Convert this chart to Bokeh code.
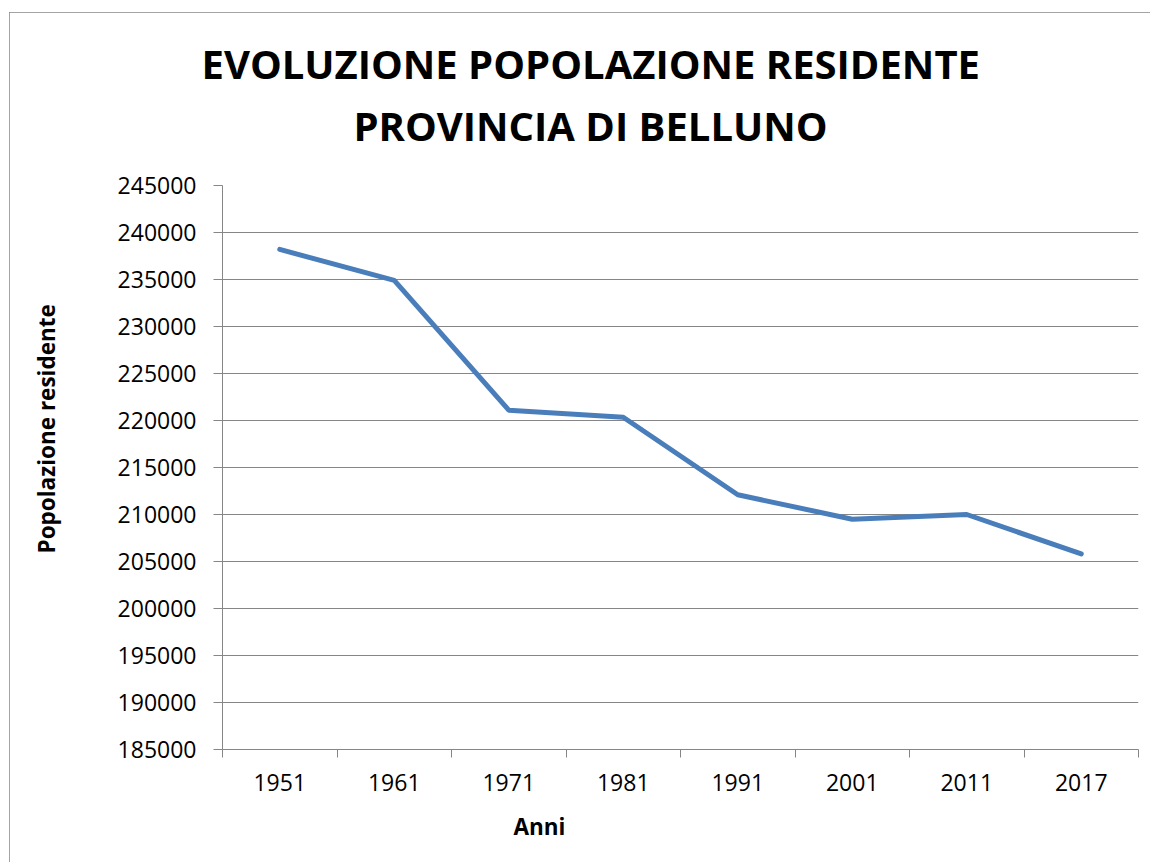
from bokeh.plotting import figure
from bokeh.models import FixedTicker, Range1d, BasicTickFormatter, Title
from bokeh.embed import file_html
from bokeh.resources import INLINE

# ---- data ----
anni = ["1951", "1961", "1971", "1981", "1991", "2001", "2011", "2017"]
popolazione = [238200, 234900, 221100, 220350, 212100, 209500, 210000, 205800]
y_ticks = [185000, 190000, 195000, 200000, 205000, 210000, 215000, 220000,
           225000, 230000, 235000, 240000, 245000]

titolo_1 = "EVOLUZIONE POPOLAZIONE RESIDENTE"
titolo_2 = "PROVINCIA DI BELLUNO"
etichetta_x = "Anni"
etichetta_y = "Popolazione residente"

GRAY = "#868686"
FONT = "Open Sans"

x_pos = [i + 0.5 for i in range(len(anni))]
boundaries = list(range(len(anni) + 1))

p = figure(width=1141, height=850, title=None,
           x_range=Range1d(0, len(anni)), y_range=Range1d(y_ticks[0], y_ticks[-1]),
           output_backend="svg", toolbar_location=None,
           min_border_left=213, min_border_right=12,
           min_border_top=173, min_border_bottom=113)

p.outline_line_color = None
p.background_fill_color = "white"
p.border_fill_color = "white"
p.styles = {"outline": "1px solid #868686", "outline-offset": "-1px",
            "margin-left": "9px", "margin-top": "12px"}

p.line(x_pos, popolazione, line_color="#4A7EBB", line_width=5,
       line_cap="round", line_join="round")

# x axis: labels at category centers, ticks at category boundaries
xa = p.xaxis[0]
xa.ticker = FixedTicker(ticks=x_pos, minor_ticks=boundaries)
xa.major_label_overrides = {xp: a for xp, a in zip(x_pos, anni)}
xa.major_tick_line_color = None
xa.major_tick_out = 0
xa.major_tick_in = 0
xa.minor_tick_line_color = GRAY
xa.minor_tick_out = 8
xa.minor_tick_in = 0
xa.axis_line_color = GRAY
xa.major_label_standoff = 16
xa.major_label_text_font = FONT
xa.major_label_text_font_size = "23px"
xa.major_label_text_color = "black"

ya = p.yaxis[0]
ya.ticker = FixedTicker(ticks=y_ticks)
ya.formatter = BasicTickFormatter(use_scientific=False)
ya.major_tick_line_color = GRAY
ya.major_tick_out = 9
ya.major_tick_in = 0
ya.minor_tick_line_color = None
ya.axis_line_color = GRAY
ya.major_label_standoff = 17
ya.major_label_text_font = FONT
ya.major_label_text_font_size = "23px"
ya.major_label_text_color = "black"

p.xgrid.visible = False
p.ygrid.ticker = FixedTicker(ticks=y_ticks)
p.ygrid.grid_line_color = GRAY
p.ygrid.grid_line_width = 1.2

# chart title (two lines), stacked outward from the plot area
p.add_layout(Title(text=" ", text_font_size="27.5px", standoff=0), "above")
p.add_layout(Title(text=titolo_2, align="left", offset=131, standoff=0,
                   text_font=FONT, text_font_style="bold", text_font_size="40px",
                   text_color="black"), "above")
p.add_layout(Title(text=titolo_1, align="left", offset=-21, standoff=10,
                   text_font=FONT, text_font_style="bold", text_font_size="40px",
                   text_color="black"), "above")

# axis titles
p.add_layout(Title(text=etichetta_x, align="left", offset=291, standoff=31,
                   text_font=FONT, text_font_style="bold", text_font_size="22.5px",
                   text_color="black"), "below")
p.add_layout(Title(text=" ", text_font_size="21.5px", standoff=27), "left")
p.add_layout(Title(text=etichetta_y, align="left", offset=196, standoff=0,
                   text_font=FONT, text_font_style="bold", text_font_size="22.5px",
                   text_color="black"), "left")

open("out.html", "w").write(file_html(p, INLINE))
